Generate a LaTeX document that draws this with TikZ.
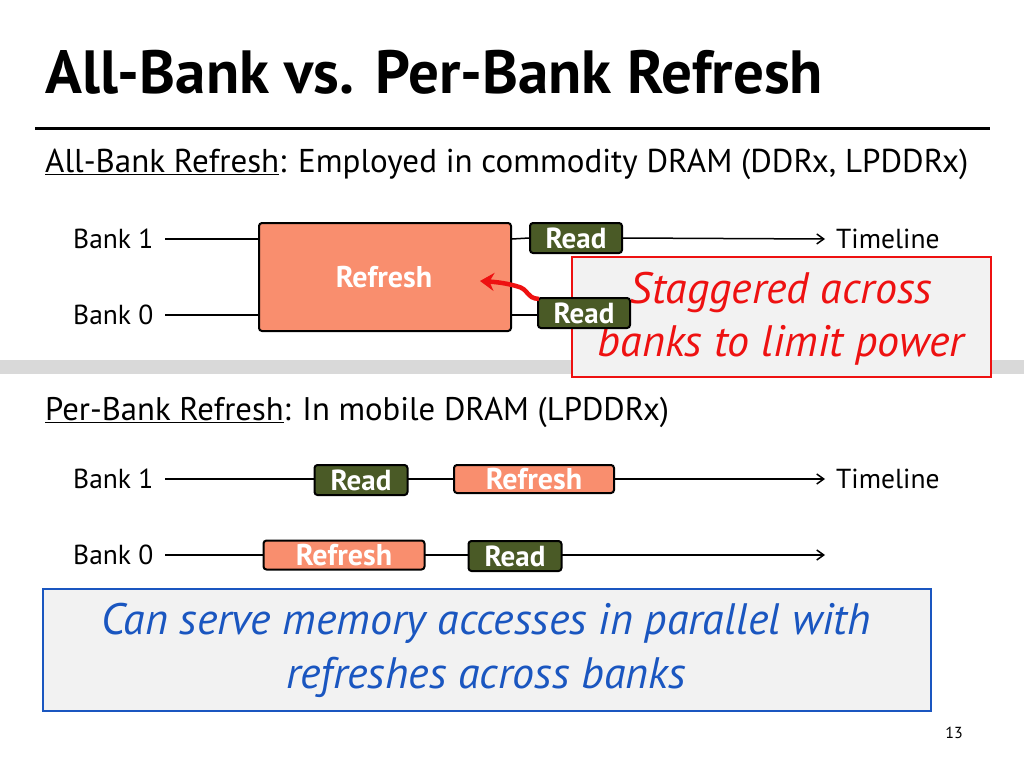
\documentclass[tikz,border=0pt]{standalone}
\usepackage{fontspec}
\setmainfont{PT Sans}
\usetikzlibrary{arrows.meta}
\definecolor{salmon}{HTML}{F98E6E}
\definecolor{olive}{HTML}{4A5A26}
\definecolor{boxgray}{HTML}{F2F2F2}
\definecolor{bandgray}{HTML}{D9D9D9}
\definecolor{callred}{HTML}{EE1111}
\definecolor{callblue}{HTML}{1A56C0}
\tikzset{
  readbox/.style={draw=black, line width=2pt, fill=olive, rounded corners=3pt, text=white, font=\bfseries\fontsize{29}{29}\selectfont, inner sep=0pt},
  refbox/.style={draw=black, line width=2pt, fill=salmon, rounded corners=3pt, text=white, font=\bfseries\fontsize{30}{30}\selectfont, inner sep=0pt},
  tl/.style={line width=1.5pt},
  tla/.style={line width=1.5pt, -{Straight Barb[length=7pt,width=10pt]}},
  lbl/.style={font=\fontsize{27.5}{27.5}\selectfont, anchor=west, inner sep=0pt},
}
\begin{document}
\begin{tikzpicture}[x=1pt,y=-1pt]
\useasboundingbox (0,0) rectangle (1024,768);
% title
\node[anchor=base west, inner sep=0pt, font=\bfseries\fontsize{61}{61}\selectfont] (title) at (45,93) {All-Bank vs. Per-Bank Refresh};
\draw[line width=3pt] (35,128) -- (990,128);
\node[anchor=base west, inner sep=0pt, font=\fontsize{33}{33}\selectfont] (h1) at (45,172) {\underline{All-Bank Refresh}: Employed in commodity DRAM (DDRx, LPDDRx)};
% gray band
\fill[bandgray] (0,360) rectangle (1024,374);
% callout (behind the boxes)
\node[draw=callred, line width=2pt, fill=boxgray, minimum width=419pt, minimum height=120pt, anchor=north west, inner sep=0pt] (call) at (571,256) {};
\node[text=callred, font=\itshape\fontsize{44}{53}\selectfont, align=center, inner sep=0pt] (callt) at (781,319) {Staggered across\\banks to limit power};
% all-bank timelines
\node[lbl] (b1a) at (73,239) {Bank 1};
\node[lbl] (b0a) at (73,315) {Bank 0};
\node[refbox, minimum width=252pt, minimum height=108pt, anchor=north west] (refA) at (258,222) {};
\node[text=white, font=\bfseries\fontsize{30}{30}\selectfont] (refAt) at (384,277) {Refresh};
\node[readbox, minimum width=92pt, minimum height=30pt] (rdA1) at (576,238) {Read};
\node[readbox, minimum width=92pt, minimum height=30pt] (rdA0) at (584,313) {Read};
\coordinate (endA1) at (825,239);
\draw[tl] (165,239) -- (refA.west |- 0,239);
\draw[tl] (165,315) -- (refA.west |- 0,315);
\draw[tl] (refA.east |- 0,239) -- (rdA1.west);
\draw[tl] (refA.east |- 0,315) -- (rdA0.west |- 0,315);
\draw[tla] (rdA1.east) -- (endA1);
\node[lbl] (tlA) at (836,239) {Timeline};
% red arrow
\draw[callred, line width=4.5pt, -{Stealth[length=14pt,width=18pt]}] (rdA0.north west) ++(2,2) .. controls (525,298) and (530,289) .. (516,286) .. controls (505,283) and (496,282) .. (480,281);
% per-bank
\node[anchor=base west, inner sep=0pt, font=\fontsize{32.7}{32.7}\selectfont] (h2) at (45,420) {\underline{Per-Bank Refresh}: In mobile DRAM (LPDDRx)};
\node[lbl] (b1b) at (73,479) {Bank 1};
\node[lbl] (b0b) at (73,555) {Bank 0};
\coordinate (s1) at (165,479);
\coordinate (e1) at (825,479);
\coordinate (s0) at (165,555);
\coordinate (e0) at (825,555);
\draw[tla] (s1) -- (e1);
\draw[tla] (s0) -- (e0);
\node[readbox, minimum width=93pt, minimum height=30pt] (rdB1) at (361,480) {Read};
\node[refbox, minimum width=160pt, minimum height=28pt] (rfB1) at (534,479) {Refresh};
\node[refbox, minimum width=161pt, minimum height=29pt] (rfB0) at (344,555) {Refresh};
\node[readbox, minimum width=93pt, minimum height=30pt] (rdB0) at (515,556) {Read};
\node[lbl] (tlB) at (836,479) {Timeline};
% blue box
\node[draw=callblue, line width=2pt, fill=boxgray, minimum width=888pt, minimum height=122pt, anchor=north west, inner sep=0pt] (blue) at (42,588) {};
\node[text=callblue, font=\itshape\fontsize{44}{54}\selectfont, align=center, inner sep=0pt] (bluet) at (486,650) {Can serve memory accesses in parallel with\\refreshes across banks};
\node[font=\fontsize{16}{16}\selectfont, inner sep=0pt] (pg) at (954,733) {13};
\end{tikzpicture}
\end{document}
